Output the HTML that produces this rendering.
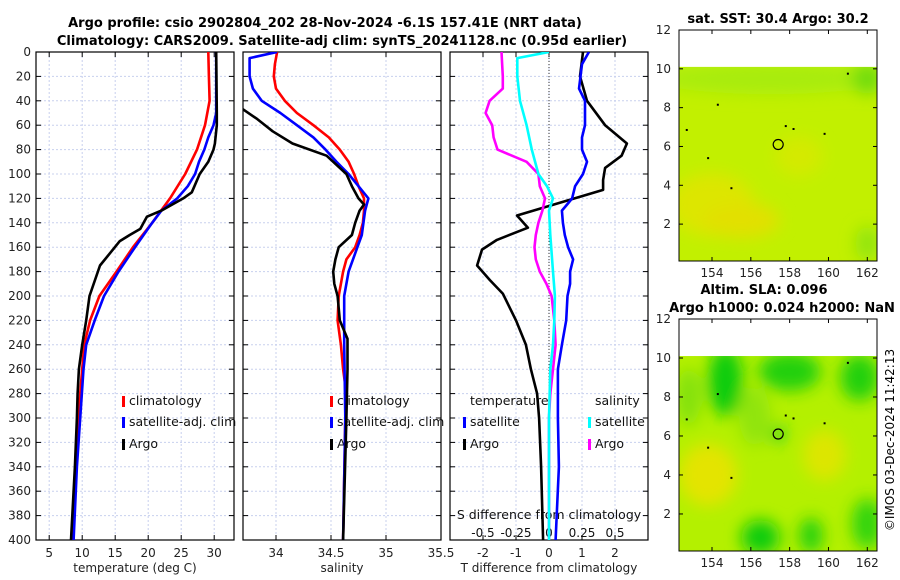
<!DOCTYPE html>
<html><head><meta charset="utf-8"><style>
html,body{margin:0;padding:0;background:#fff;}
svg{display:block;font-family:"DejaVu Sans","Liberation Sans",sans-serif;}
</style></head><body>
<svg id="fig" width="900" height="580" viewBox="0 0 900 580" xmlns="http://www.w3.org/2000/svg">
<defs>
<filter id="blur" x="-20%" y="-20%" width="140%" height="140%"><feGaussianBlur stdDeviation="8"/></filter>
<clipPath id="c1"><rect x="36" y="52" width="198" height="488"/></clipPath>
<clipPath id="c2"><rect x="243" y="52" width="198" height="488"/></clipPath>
<clipPath id="c3"><rect x="450" y="52" width="198" height="488"/></clipPath>
<clipPath id="m1"><rect x="679" y="67" width="198" height="194"/></clipPath>
<clipPath id="m2"><rect x="679" y="356" width="198" height="195"/></clipPath>
</defs>
<text x="325" y="27" text-anchor="middle" font-weight="bold" font-size="13">Argo profile: csio 2902804_202 28-Nov-2024 -6.1S 157.41E (NRT data)</text>
<text x="342" y="45" text-anchor="middle" font-weight="bold" font-size="13">Climatology: CARS2009. Satellite-adj clim: synTS_20241128.nc (0.95d earlier)</text>
<text x="778" y="23" text-anchor="middle" font-weight="bold" font-size="13">sat. SST: 30.4 Argo: 30.2</text>
<text x="764" y="294" text-anchor="middle" font-weight="bold" font-size="13">Altim. SLA: 0.096</text>
<text x="782" y="312" text-anchor="middle" font-weight="bold" font-size="13">Argo h1000: 0.024 h2000: NaN</text>
<text transform="translate(894,440) rotate(-90)" text-anchor="middle" font-size="12">©IMOS 03-Dec-2024 11:42:13</text>
<g id="root"></g>
</svg>
<script>
// ---- data ----
const depthTicks = [0,20,40,60,80,100,120,140,160,180,200,220,240,260,280,300,320,340,360,380,400];
const tempTicks = [5,10,15,20,25,30];
const salTicks = [34,34.5,35,35.5];
const tdiffTicks = [-2,-1,0,1,2];
const sdiffTicks = [-0.5,-0.25,0,0.25,0.5];
const sdiffTickLabels = ["-0.5","-0.25","0","0.25","0.5"];

const tClimDepth = [0,20,40,60,80,100,120,140,160,180,200,220,240,260,280,300,340,400];
const tClim = [29.1,29.2,29.3,28.6,27.4,25.6,23.3,20.6,17.7,15.2,12.6,11.2,10.3,10.0,9.7,9.4,9.1,8.5];
const tSatDepth = [0,20,40,50,60,70,80,90,100,110,120,130,140,160,180,200,220,240,260,300,340,400];
const tSat = [30.3,30.3,30.3,30.3,29.9,29.1,28.5,27.7,27.1,26.0,24.4,22.0,20.6,18.0,15.5,13.3,11.9,10.6,10.2,9.7,9.2,8.7];
const tArgoDepth = [0,50,60,75,80,90,100,115,120,130,135,140,145,150,155,165,175,200,220,240,260,280,300,340,400];
const tArgo = [30.3,30.4,30.4,30.1,29.9,29.1,27.8,26.6,25.3,22.0,19.8,19.3,18.8,17.2,15.7,14.2,12.7,11.1,10.6,10.0,9.5,9.3,9.2,8.9,8.3];

const sClimDepth = [0,10,20,30,40,50,60,70,80,90,100,110,120,130,140,150,160,170,180,200,220,240,260,280,300,400];
const sClim = [34.01,33.99,33.98,34.0,34.08,34.19,34.34,34.48,34.58,34.66,34.71,34.75,34.8,34.8,34.79,34.76,34.72,34.64,34.61,34.57,34.56,34.59,34.61,34.64,34.63,34.61];
const sSatDepth = [0,5,20,30,40,50,60,70,80,90,100,110,120,130,150,160,180,200,240,300,400];
const sSat = [34.01,33.76,33.76,33.79,33.87,34.04,34.19,34.34,34.45,34.55,34.66,34.75,34.84,34.81,34.78,34.74,34.66,34.62,34.62,34.63,34.61];
const sArgoDepth = [0,40,47,55,65,75,85,100,110,120,125,130,140,150,160,170,180,190,200,220,235,260,300,400];
const sArgo = [33.4,33.5,33.7,33.83,33.97,34.15,34.46,34.64,34.69,34.75,34.8,34.76,34.72,34.69,34.57,34.54,34.52,34.53,34.56,34.58,34.65,34.65,34.64,34.61];

const dTSatDepth = [0,10,30,40,60,70,80,90,100,110,120,125,130,140,150,160,170,180,190,200,220,240,260,300,340,400];
const dTSat = [1.21,1.0,0.91,1.09,1.09,1.0,1.0,1.15,1.03,0.79,0.7,0.55,0.39,0.42,0.48,0.58,0.73,0.64,0.64,0.56,0.52,0.39,0.27,0.27,0.3,0.2];
const dTArgoDepth = [0,20,40,60,75,85,95,105,113,134,144,154,162,175,187,198,220,240,260,280,300,340,400];
const dTArgo = [1.03,0.94,1.15,1.7,2.36,2.2,1.7,1.64,1.64,-0.97,-0.64,-1.58,-2.03,-2.18,-1.79,-1.4,-1.0,-0.7,-0.55,-0.36,-0.3,-0.24,-0.18];
const dSSatDepth = [0,5,20,40,60,80,100,110,120,130,150,180,200,220,240,260,300,400];
const dSSat = [0,-0.24,-0.24,-0.22,-0.17,-0.13,-0.08,-0.015,0.03,0,0.01,0.03,0.045,0.04,0.03,0.01,0,0];
const dSArgoDepth = [0,20,30,40,50,60,70,80,90,100,110,120,130,140,150,160,170,180,190,200,220,240,260,280,300,400];
const dSArgo = [-0.36,-0.35,-0.35,-0.45,-0.48,-0.43,-0.42,-0.39,-0.17,-0.08,-0.07,-0.03,-0.05,-0.08,-0.1,-0.11,-0.1,-0.07,-0.02,0.02,0.04,0.05,0.03,0.01,0,0];

const lonTicks = [154,156,158,160,162];
const latTicks = [2,4,6,8,10,12];
const argoLon = [157.41];
const argoLat = [6.1];
const islandLon = [154.3,152.7,153.8,155.0,157.8,158.2,159.8,161.0];
const islandLat = [8.15,6.85,5.4,3.85,7.05,6.9,6.65,9.75];

// ---- helpers ----
const NS="http://www.w3.org/2000/svg";
const root=document.getElementById('root');
function mk(tag,attrs,parent){const e=document.createElementNS(NS,tag);for(const k in attrs)e.setAttribute(k,attrs[k]);(parent||root).appendChild(e);return e;}
const Y0=52,Y1=540;
function yD(d){return Y0+(d/400)*(Y1-Y0);}
function lin(d0,d1,r0,r1){return v=>r0+(v-d0)/(d1-d0)*(r1-r0);}
const xT=lin(3,33,36,234);
const xS=lin(33.7,35.5,243,441);
const xDT=lin(-3,3,450,648);
const xDS=lin(-0.75,0.75,450,648);

function panel(x0,xs,ticks,labels,name,title){
  const g=mk('g',{});
  
  
  // grid
  ticks.forEach(t=>{const x=xs(t);
    const l=mk('line',{x1:x,x2:x,y1:Y0,y2:Y1,stroke:'#c8d0ee','stroke-width':1,'stroke-dasharray':'2,2'},g);
    
    mk('line',{x1:x,x2:x,y1:Y1,y2:Y1-5,stroke:'#000'},g);
    mk('line',{x1:x,x2:x,y1:Y0,y2:Y0+5,stroke:'#000'},g);
  });
  depthTicks.forEach(d=>{const y=yD(d);
    if(d>0&&d<400){const l=mk('line',{x1:x0,x2:x0+198,y1:y,y2:y,stroke:'#c8d0ee','stroke-width':1,'stroke-dasharray':'2,2'},g);
    }
    mk('line',{x1:x0,x2:x0+5,y1:y,y2:y,stroke:'#000'},g);
    mk('line',{x1:x0+198,x2:x0+193,y1:y,y2:y,stroke:'#000'},g);
  });
  ticks.forEach((t,i)=>{const tx=mk('text',{x:xs(t),y:557,'text-anchor':'middle','font-size':12,fill:'#222'},g);tx.textContent=labels[i];
    });
  const at=mk('text',{x:x0+99,y:572,'text-anchor':'middle','font-size':12,fill:'#222'},g);at.textContent=title;
  
  return g;
}
function frame(x0,g){const r=mk('rect',{x:x0,y:Y0,width:198,height:Y1-Y0,fill:'none',stroke:'#000','stroke-width':1.2},g);
  }
function line(ds,vs,xs,color,clip,name,w){
  const pts=ds.map((d,i)=>xs(vs[i]).toFixed(1)+','+yD(d).toFixed(1)).join(' ');
  const p=mk('polyline',{points:pts,fill:'none',stroke:color,'stroke-width':w||2.6,'stroke-linejoin':'round','clip-path':'url(#'+clip+')'});
  
}
function legend(x,y,color,label,g){
  const b=mk('rect',{x:x,y:y-9,width:3,height:11,fill:color},g);
  
  const t=mk('text',{x:x+7,y:y,'font-size':12.5,fill:'#111'},g);t.textContent=label;
  
}

// panel 1
const g1=panel(36,xT,tempTicks,tempTicks.map(String),'temperature-panel','temperature (deg C)');
depthTicks.forEach(d=>{const t=mk('text',{x:31,y:yD(d)+4,'text-anchor':'end','font-size':12,fill:'#222'});t.textContent=d;
  });
line(tClimDepth,tClim,xT,'#f00','c1','temp-climatology-line');
line(tSatDepth,tSat,xT,'#0000ff','c1','temp-satellite-line');
line(tArgoDepth,tArgo,xT,'#000','c1','temp-argo-line');
frame(36,g1);
legend(122,405,'#f00','climatology',g1);legend(122,426,'#00f','satellite-adj. clim',g1);legend(122,448,'#000','Argo',g1);

// panel 2
const g2=panel(243,xS,salTicks,["34","34.5","35","35.5"],'salinity-panel','salinity');
line(sClimDepth,sClim,xS,'#f00','c2','sal-climatology-line');
line(sSatDepth,sSat,xS,'#0000ff','c2','sal-satellite-line');
line(sArgoDepth,sArgo,xS,'#000','c2','sal-argo-line');
frame(243,g2);
legend(330,405,'#f00','climatology',g2);legend(330,426,'#00f','satellite-adj. clim',g2);legend(330,448,'#000','Argo',g2);

// panel 3
const g3=panel(450,xDT,tdiffTicks,tdiffTicks.map(String),'difference-panel','T difference from climatology');
const zl=mk('line',{x1:xDT(0),x2:xDT(0),y1:Y0,y2:Y1,stroke:'#333','stroke-width':1,'stroke-dasharray':'1,2'},g3);

line(dTArgoDepth,dTArgo,xDT,'#000','c3','tdiff-argo-line');
line(dTSatDepth,dTSat,xDT,'#0000ff','c3','tdiff-satellite-line');
line(dSArgoDepth,dSArgo,xDS,'#ff00ff','c3','sdiff-argo-line');
line(dSSatDepth,dSSat,xDS,'#00ffff','c3','sdiff-satellite-line');
frame(450,g3);
{const t=mk('text',{x:470,y:405,'font-size':12.5,fill:'#111'},g3);t.textContent='temperature';
 const t2=mk('text',{x:595,y:405,'font-size':12.5,fill:'#111'},g3);t2.textContent='salinity';}
legend(463,426,'#00f','satellite',g3);legend(463,448,'#000','Argo',g3);
legend(588,426,'#00ffff','satellite',g3);legend(588,448,'#ff00ff','Argo',g3);
{const t=mk('text',{x:549,y:519,'text-anchor':'middle','font-size':12.5,fill:'#111'},g3);t.textContent='S difference from climatology';
 }
sdiffTicks.forEach((s,i)=>{const t=mk('text',{x:xDS(s),y:537,'text-anchor':'middle','font-size':12,fill:'#111'},g3);t.textContent=sdiffTickLabels[i];
  });

// maps
function map(top,bottom,clip,name,blobs,base){
  const g=mk('g',{});
  
  const xL=lin(152.3,162.5,679,877), yL=lin(0.1,12,bottom,top);
  const dataTop=yL(10.1);
  const bg=mk('rect',{x:679,y:dataTop,width:198,height:bottom-dataTop,fill:base},g);
  
  const bl=mk('g',{'clip-path':'url(#'+clip+')'},g);
  const bf=mk('g',{filter:'url(#blur)'},bl);
  blobs.forEach(b=>{const e=mk('ellipse',{cx:xL(b[0]),cy:yL(b[1]),rx:b[2]*19.4,ry:b[3]*19.4,fill:b[4]},bf);
    });
  islandLon.forEach((lo,i)=>{const d=mk('rect',{x:xL(lo)-1,y:yL(islandLat[i])-1,width:2,height:2,fill:'#000'},g);
    });
  argoLon.forEach((lo,i)=>{const c=mk('circle',{cx:xL(lo),cy:yL(argoLat[i]),r:5,fill:'none',stroke:'#000','stroke-width':1.2},g);
    });
  const fr=mk('rect',{x:679,y:top,width:198,height:bottom-top,fill:'none',stroke:'#000','stroke-width':1},g);
  
  lonTicks.forEach(lo=>{const x=xL(lo);mk('line',{x1:x,x2:x,y1:bottom,y2:bottom-4,stroke:'#000'},g);mk('line',{x1:x,x2:x,y1:top,y2:top+4,stroke:'#000'},g);
    const t=mk('text',{x:x,y:bottom+16,'text-anchor':'middle','font-size':12,fill:'#222'},g);t.textContent=lo;
    });
  latTicks.forEach(la=>{const y=yL(la);mk('line',{x1:679,x2:683,y1:y,y2:y,stroke:'#000'},g);mk('line',{x1:877,x2:873,y1:y,y2:y,stroke:'#000'},g);
    const t=mk('text',{x:671,y:y+4,'text-anchor':'end','font-size':12,fill:'#222'},g);t.textContent=la;
    });
}
map(30,261,'m1','sst-map',[
  [154,3,2.2,1.6,'#dde600'],[155.5,2.2,2,0.9,'#e2e000'],[158.5,5.5,1.2,1,'#d4ea00'],
  [157,9.5,6,0.8,'#a8ec10'],[162,9.5,0.8,0.8,'#70dc10'],[162,1,0.6,0.9,'#90e410']
],'#c2f000');
map(319,551,'m2','sla-map',[
  [154.7,8.8,0.9,1.8,'#10cc10'],[158,9.3,1.6,1,'#20d010'],[161.6,9,1,1.2,'#20d010'],
  [156.5,0.8,1,0.9,'#10cc10'],[159.1,0.9,0.6,0.9,'#20d010'],[162,1.5,0.8,1.3,'#30d410'],
  [157.4,6.1,0.4,0.4,'#20d020'],
  [153.8,4,1.5,1.6,'#e4e400'],[159.8,5,1.1,1.3,'#dde600'],[152.8,8,0.6,1.5,'#80e010'],
  [156.2,7,0.8,1.5,'#90e410']
],'#b4f000');
</script>
</body></html>
